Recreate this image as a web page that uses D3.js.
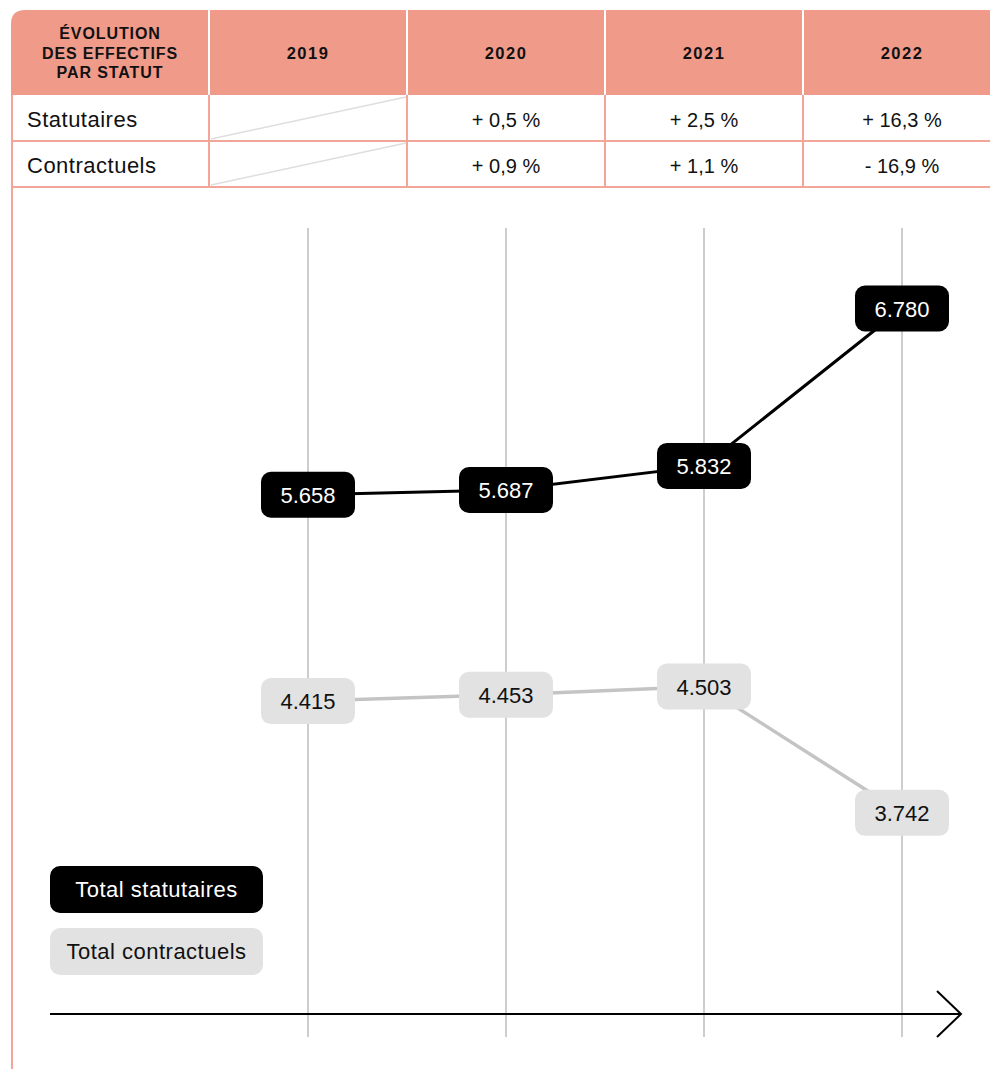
<!DOCTYPE html>
<html>
<head>
<meta charset="utf-8">
<script src="https://cdn.jsdelivr.net/npm/d3@7"></script>
<style>
  body { margin: 0; background: #fff; }
  text { font-family: "Liberation Sans", Arial, sans-serif; }
</style>
</head>
<body>
<div id="chart"></div>
<script>
const width = 990;
const height = 1069;

// data
const years = ["2019", "2020", "2021", "2022"];
const statutaires = [5658, 5687, 5832, 6780];
const contractuels = [4415, 4453, 4503, 3742];
const varStatutaires = ["", "+ 0,5 %", "+ 2,5 %", "+ 16,3 %"];
const varContractuels = ["", "+ 0,9 %", "+ 1,1 %", "- 16,9 %"];
const headerLines = ["ÉVOLUTION", "DES EFFECTIFS", "PAR STATUT"];
const rowLabels = ["Statutaires", "Contractuels"];
const legendLabels = ["Total statutaires", "Total contractuels"];

const salmon = "#f09a8a";
const salmonLine = "#f3a597";

const svg = d3.select("#chart")
  .append("svg")
  .attr("width", width)
  .attr("height", height);

const fr = d3.formatLocale({ decimal: ",", thousands: ".", grouping: [3], currency: ["", " €"] });
const fmt = fr.format(",d");

// columns of the table, also used for the chart x positions
const cols = ["head"].concat(years);
const xBand = d3.scaleBand()
  .domain(cols)
  .range([11, 1001])
  .padding(0);
const bw = xBand.bandwidth();
function xc(y) { return xBand(y) + bw / 2; }

const headTop = 10, headBottom = 95, row1 = 141, row2 = 187;

// ---- table header
const r = 14;
svg.append("path")
  .attr("d", "M11," + headBottom + " V" + (headTop + r) +
    " Q11," + headTop + " " + (11 + r) + "," + headTop +
    " H1001 V" + headBottom + " Z")
  .attr("fill", salmon);

svg.selectAll(".head-sep")
  .data(years)
  .enter()
  .append("line")
  .attr("x1", function(d) { return xBand(d); })
  .attr("x2", function(d) { return xBand(d); })
  .attr("y1", headTop)
  .attr("y2", headBottom)
  .attr("stroke", "#fff")
  .attr("stroke-width", 2);

svg.selectAll(".head-line")
  .data(headerLines)
  .enter()
  .append("text")
  .attr("x", xc("head"))
  .attr("y", function(d, i) { return 39 + i * 19.5; })
  .attr("text-anchor", "middle")
  .attr("font-size", "16px")
  .attr("font-weight", "bold")
  .attr("letter-spacing", "0.9px")
  .attr("fill", "#111")
  .text(function(d) { return d; });

svg.selectAll(".head-year")
  .data(years)
  .enter()
  .append("text")
  .attr("x", function(d) { return xc(d); })
  .attr("y", 59)
  .attr("text-anchor", "middle")
  .attr("font-size", "16.5px")
  .attr("font-weight", "bold")
  .attr("letter-spacing", "1.5px")
  .attr("fill", "#111")
  .text(function(d) { return d; });

// ---- table body grid
[row1, row2].forEach(function(y) {
  svg.append("line")
    .attr("x1", 11).attr("x2", 1001)
    .attr("y1", y).attr("y2", y)
    .attr("stroke", salmonLine)
    .attr("stroke-width", 2);
});

svg.selectAll(".body-sep")
  .data(years)
  .enter()
  .append("line")
  .attr("x1", function(d) { return xBand(d); })
  .attr("x2", function(d) { return xBand(d); })
  .attr("y1", headBottom)
  .attr("y2", row2)
  .attr("stroke", salmonLine)
  .attr("stroke-width", 2);

// left border going down the page
svg.append("line")
  .attr("x1", 12).attr("x2", 12)
  .attr("y1", headBottom).attr("y2", height)
  .attr("stroke", salmonLine)
  .attr("stroke-width", 2);

// diagonal strike in the 2019 cells
[[headBottom, row1], [row1, row2]].forEach(function(rr) {
  svg.append("line")
    .attr("x1", xBand("2019") + 2)
    .attr("y1", rr[1] - 2)
    .attr("x2", xBand("2020") - 1)
    .attr("y2", rr[0] + 2)
    .attr("stroke", "#dedede")
    .attr("stroke-width", 1.5);
});

svg.selectAll(".row-label")
  .data(rowLabels)
  .enter()
  .append("text")
  .attr("x", 27)
  .attr("y", function(d, i) { return i === 0 ? 127 : 173; })
  .attr("font-size", "22px")
  .attr("letter-spacing", "0.5px")
  .attr("fill", "#111")
  .text(function(d) { return d; });

[varStatutaires, varContractuels].forEach(function(arr, i) {
  svg.selectAll(".var" + i)
    .data(years)
    .enter()
    .append("text")
    .attr("x", function(d) { return xc(d); })
    .attr("y", i === 0 ? 127 : 173)
    .attr("text-anchor", "middle")
    .attr("font-size", "20px")
    .attr("fill", "#111")
    .text(function(d, j) { return arr[j]; });
});

// ---- chart
const yScale = d3.scaleLinear()
  .domain([3500, 7000])
  .range([853, 272]);

svg.selectAll(".grid")
  .data(years)
  .enter()
  .append("line")
  .attr("x1", function(d) { return xc(d); })
  .attr("x2", function(d) { return xc(d); })
  .attr("y1", 228)
  .attr("y2", 1037)
  .attr("stroke", "#cdcdcd")
  .attr("stroke-width", 2);

const series = [
  { values: statutaires, line: "#000", box: "#000", txt: "#fff", sw: 3 },
  { values: contractuels, line: "#c4c4c4", box: "#e2e2e2", txt: "#111", sw: 3.5 }
];

const line = d3.line()
  .x(function(d, i) { return xc(years[i]); })
  .y(function(d) { return yScale(d); });

series.forEach(function(s) {
  svg.append("path")
    .datum(s.values)
    .attr("d", line)
    .attr("fill", "none")
    .attr("stroke", s.line)
    .attr("stroke-width", s.sw);
});

const boxW = 94, boxH = 46;
series.forEach(function(s, k) {
  const g = svg.selectAll(".lbl" + k)
    .data(s.values)
    .enter()
    .append("g")
    .attr("transform", function(d, i) {
      return "translate(" + xc(years[i]) + "," + yScale(d) + ")";
    });
  g.append("rect")
    .attr("x", -boxW / 2)
    .attr("y", -boxH / 2)
    .attr("width", boxW)
    .attr("height", boxH)
    .attr("rx", 10)
    .attr("fill", s.box);
  g.append("text")
    .attr("y", 8)
    .attr("text-anchor", "middle")
    .attr("font-size", "22px")
    .attr("fill", s.txt)
    .text(function(d) { return fmt(d); });
});

// legend
const legend = svg.selectAll(".legend")
  .data(legendLabels)
  .enter()
  .append("g")
  .attr("transform", function(d, i) { return "translate(50," + (866 + i * 62) + ")"; });

legend.append("rect")
  .attr("width", 213)
  .attr("height", 47)
  .attr("rx", 10)
  .attr("fill", function(d, i) { return series[i].box; });

legend.append("text")
  .attr("x", 106.5)
  .attr("y", 31)
  .attr("text-anchor", "middle")
  .attr("font-size", "22px")
  .attr("letter-spacing", "0.5px")
  .attr("fill", function(d, i) { return series[i].txt; })
  .text(function(d) { return d; });

// time arrow
svg.append("line")
  .attr("x1", 50).attr("x2", 960)
  .attr("y1", 1014).attr("y2", 1014)
  .attr("stroke", "#000")
  .attr("stroke-width", 2);

svg.append("path")
  .attr("d", "M937,991 L961,1014 L937,1037")
  .attr("fill", "none")
  .attr("stroke", "#000")
  .attr("stroke-width", 2);
</script>
</body>
</html>
